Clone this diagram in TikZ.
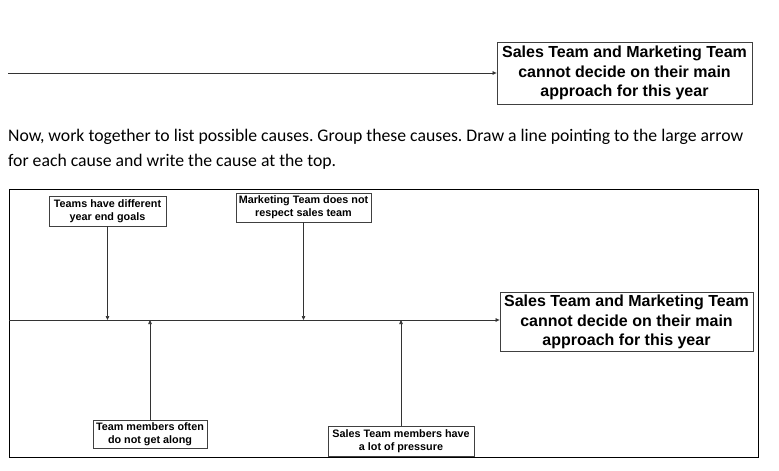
\documentclass[tikz,border=0pt]{standalone}
\usepackage{fontspec}
\setmainfont{Liberation Sans}
\newfontfamily\calibri{Carlito}
\usetikzlibrary{arrows.meta}
\frenchspacing
\begin{document}
\begin{tikzpicture}[x=1pt,y=-1pt,
  box/.style={draw=black!75,line width=0.8pt,inner sep=0pt,align=center,font=\bfseries\fontsize{10.8}{12.8}\selectfont},
  bigbox/.style={draw=black!75,line width=0.8pt,inner sep=0pt,align=center,font=\bfseries\fontsize{16}{19.2}\selectfont},
  para/.style={anchor=base west,inner sep=0pt,font=\calibri\fontsize{17.7}{22}\selectfont},
  arr/.style={draw=black!80,line width=0.7pt,-{Triangle[length=4pt,width=3.5pt]}}]
\useasboundingbox (0,0) rectangle (779,471);
% top example
\node[bigbox,minimum width=255pt,minimum height=62pt] (top) at (624.5,73) {Sales Team and Marketing Team\\cannot decide on their main\\approach for this year};
\coordinate (t0) at (8,73);
\draw[arr] (t0) -- (top.west);
% paragraph
\node[para] (para1) at (8,141.5) {Now, work together to list possible causes. Group these causes. Draw a line pointing to the large arrow};
\node[para] (para2) at (8,166) {for each cause and write the cause at the top.};
% frame
\node[draw=black,line width=0.8pt,inner sep=0pt,minimum width=749pt,minimum height=268pt] (frame) at (383.5,323) {};
% main effect
\node[bigbox,minimum width=253pt,minimum height=59pt] (main) at (626.5,322) {Sales Team and Marketing Team\\cannot decide on their main\\approach for this year};
\coordinate (s0) at (9,320);
\draw[arr] (s0) -- (main.west |- s0);
% causes
\node[box,minimum width=117pt,minimum height=30pt] (a) at (107.5,211) {Teams have different\\year end goals};
\node[box,minimum width=135pt,minimum height=29pt] (b) at (303.5,207.5) {Marketing Team does not\\respect sales team};
\node[box,minimum width=114pt,minimum height=28pt] (c) at (150,434) {Team members often\\do not get along};
\node[box,minimum width=146pt,minimum height=30pt] (d) at (401,441) {Sales Team members have\\a lot of pressure};
\draw[arr] (a.south) -- (a.south |- s0);
\draw[arr] (b.south) -- (b.south |- s0);
\draw[arr] (c.north) -- (c.north |- s0);
\draw[arr] (d.north) -- (d.north |- s0);
\end{tikzpicture}
\end{document}
